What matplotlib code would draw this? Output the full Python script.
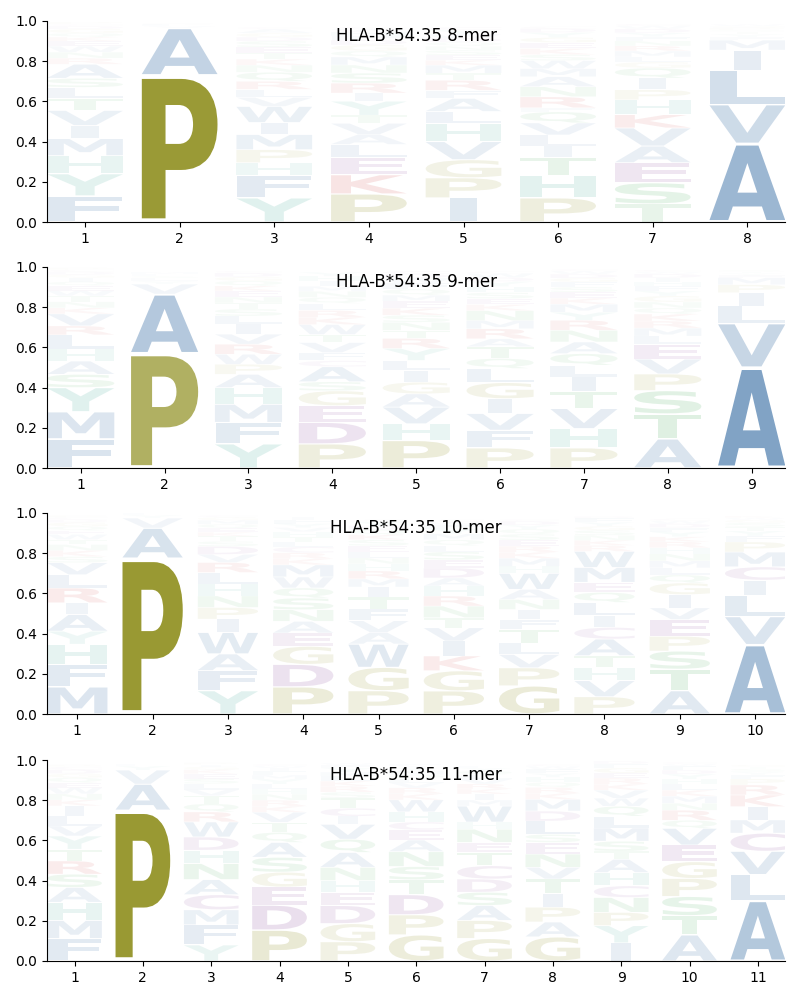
import matplotlib
matplotlib.use("Agg")
import matplotlib.pyplot as plt
from matplotlib.textpath import TextPath
from matplotlib.font_manager import FontProperties
from matplotlib.patches import PathPatch
from matplotlib.path import Path

# ---------------- data (letters bottom-to-top, frequencies) ----------------
letters_8mer = ["FYHMIVTLSARNWEKQGDCP", "PAVLS", "YFHPMIWVLRQNKTESDGAC",
                "PKELAVTYIRSNMQGDFHWC", "IPGVHLAFRTMKESNQDWYC",
                "PHTILVQFRNAMWSKEGYDC", "TSEAVKHPIQGLMRNFYDWC", "AVLIMFYTSPGW"]
freqs_8mer = [
    [.13, .11, .09, .085, .065, .075, .06, .055, .045, .07, .03, .03, .03, .025, .02, .02, .02, .015, .01, .01],
    [.73, .235, .01, .008, .007],
    [.12, .11, .065, .065, .075, .06, .08, .045, .04, .04, .045, .035, .03, .03, .03, .03, .02, .02, .02, .01],
    [.14, .095, .085, .066, .05, .055, .04, .07, .04, .05, .05, .04, .04, .03, .03, .025, .02, .02, .015, .01],
    [.12, .10, .09, .09, .09, .06, .065, .04, .05, .035, .04, .025, .025, .025, .02, .02, .02, .02, .02, .015],
    [.12, .11, .09, .058, .055, .06, .055, .02, .055, .05, .05, .04, .04, .03, .03, .03, .025, .025, .02, .01],
    [.09, .105, .1, .083, .09, .066, .074, .05, .058, .05, .03, .025, .03, .025, .025, .02, .02, .02, .015, .01],
    [.39, .195, .17, .10, .05, .015, .015, .012, .01, .01, .008, .008],
]

letters_9mer = ["FMYSAHLRVKNTWEQIGDCP", "PAVYLSFM", "YFMHAPWRVILSTNEKQGDC",
                "PDEGSACFVTWKRLQNMIHY", "PHVAGILYRTNSKEMQFWDC",
                "PFVIGLQTARMNKESHYDWC", "PHVTILQANRYMKESFGDWC",
                "ATSPVELMRKQNGYFHIDWC", "AVLIPMFYTS"]
freqs_9mer = [
    [.145, .135, .12, .066, .066, .06, .07, .045, .06, .03, .03, .03, .025, .025, .02, .02, .015, .015, .01, .01],
    [.57, .295, .05, .015, .015, .01, .01, .01],
    [.12, .107, .09, .083, .066, .05, .05, .05, .05, .05, .04, .035, .03, .03, .03, .025, .025, .02, .02, .01],
    [.12, .107, .083, .074, .045, .075, .03, .04, .05, .04, .05, .035, .035, .035, .03, .03, .025, .025, .025, .02],
    [.137, .083, .083, .066, .058, .058, .05, .06, .05, .04, .04, .035, .035, .035, .03, .03, .03, .025, .02, .015],
    [.10, .088, .083, .074, .08, .07, .05, .058, .04, .05, .04, .05, .03, .03, .03, .03, .025, .02, .02, .01],
    [.10, .096, .1, .083, .074, .058, .058, .058, .058, .05, .04, .04, .03, .03, .025, .025, .02, .02, .015, .01],
    [.145, .124, .116, .083, .074, .074, .04, .04, .035, .035, .03, .03, .03, .025, .025, .02, .02, .02, .01, .01],
    [.50, .22, .086, .066, .04, .035, .012, .01, .008, .008],
]

letters_10mer = ["MFHYAIRLVSKNTWEQGDCP", "PAVYL", "YFAWIPNHLRVDSTKEQMGC",
                 "PDGEANSQWMKRCLTHVYFI", "PGWAVFTIMRHNLESKQDYC",
                 "PGKIVTNRHADESLQMYFWC", "GPVLTFINAWHMKRESQYDC",
                 "PVHTACILQEMWRKNSGYFD", "ATSPEVIGQLMNHRKYFDWC", "AVLICMPFYTSGWK"]
freqs_10mer = [
    [.135, .112, .1, .065, .083, .058, .074, .066, .06, .03, .03, .03, .025, .025, .02, .02, .02, .015, .01, .01],
    [.775, .15, .05, .015, .01],
    [.116, .1, .083, .107, .066, .058, .058, .058, .058, .05, .04, .04, .025, .025, .02, .02, .02, .02, .015, .01],
    [.135, .112, .09, .066, .058, .058, .058, .05, .055, .06, .03, .03, .03, .025, .025, .025, .02, .02, .02, .015],
    [.116, .116, .116, .058, .058, .058, .06, .05, .04, .04, .035, .03, .03, .03, .03, .025, .025, .02, .02, .01],
    [.115, .1, .074, .074, .066, .05, .058, .05, .05, .04, .05, .04, .04, .03, .03, .03, .025, .02, .015, .01],
    [.14, .09, .066, .058, .066, .05, .05, .05, .05, .08, .035, .04, .03, .03, .03, .03, .025, .02, .02, .01],
    [.086, .08, .066, .058, .083, .058, .058, .066, .05, .05, .074, .08, .03, .025, .025, .025, .02, .02, .02, .01],
    [.116, .107, .09, .074, .083, .058, .066, .058, .04, .035, .035, .035, .03, .03, .025, .025, .02, .02, .015, .01],
    [.345, .14, .107, .074, .066, .074, .05, .03, .025, .02, .02, .015, .01, .01],
]

letters_11mer = ["FMHASRTYVLIKNWEQGDCP", "PAVYL", "YFMCANHDWRQTVLSEKGIP",
                 "PDEGSAQTVKRNHLYMFIWC", "PGDEHNAQVICTSRKLMYFW",
                 "GPDTSNAECHWKRVLQMYIF", "GPASDCTENHWMIKRVLQYF",
                 "GAPITVNESLDMKRQHYFWC", "IYPNCHATSMLQWVKREGFD",
                 "ATSPGEVQRNMKLHYDFWC", "ALVCMIKRPFYSTG"]
freqs_11mer = [
    [.112, .09, .09, .074, .066, .066, .058, .066, .05, .05, .05, .03, .03, .03, .025, .025, .02, .02, .015, .01],
    [.75, .13, .07, .02, .01],
    [.08, .1, .075, .075, .075, .08, .066, .066, .075, .05, .04, .04, .03, .03, .025, .025, .02, .015, .01, .01],
    [.154, .124, .09, .074, .074, .074, .05, .05, .05, .03, .03, .03, .025, .025, .025, .02, .02, .015, .01, .01],
    [.096, .09, .09, .066, .058, .066, .074, .066, .074, .04, .04, .05, .03, .03, .025, .025, .02, .02, .015, .01],
    [.13, .1, .1, .074, .066, .074, .058, .05, .04, .05, .06, .03, .03, .025, .02, .02, .02, .015, .01, .01],
    [.112, .09, .074, .066, .066, .066, .066, .05, .066, .035, .08, .03, .03, .025, .025, .025, .02, .02, .015, .01],
    [.12, .074, .074, .066, .074, .058, .066, .058, .04, .066, .05, .058, .03, .03, .025, .025, .02, .02, .015, .01],
    [.09, .086, .066, .074, .058, .066, .066, .04, .05, .066, .058, .05, .04, .04, .03, .03, .025, .025, .02, .015],
    [.13, .096, .095, .09, .083, .083, .083, .04, .05, .035, .035, .03, .03, .025, .025, .02, .02, .01, .01],
    [.30, .13, .116, .09, .066, .066, .058, .05, .03, .02, .015, .015, .01, .01],
]

panel_titles = ["HLA-B*54:35 8-mer", "HLA-B*54:35 9-mer",
                "HLA-B*54:35 10-mer", "HLA-B*54:35 11-mer"]

# ---------------- style ----------------
group_colors = {}
for aa in "AVLIMFW":
    group_colors[aa] = "#4477AA"
for aa in "PG":
    group_colors[aa] = "#999933"
for aa in "HY":
    group_colors[aa] = "#44AA99"
for aa in "STNQ":
    group_colors[aa] = "#44AA55"
for aa in "KR":
    group_colors[aa] = "#CC3333"
for aa in "DEC":
    group_colors[aa] = "#884499"

COL_WIDTH = 0.8
VPAD = 0.05
fp = FontProperties(family="DejaVu Sans", weight="bold")
_cache = {}


def glyph(ch):
    if ch not in _cache:
        _cache[ch] = TextPath((0, 0), ch, size=1, prop=fp)
    return _cache[ch]


msc_ext = glyph("E").get_extents()


def draw_letter(ax, ch, xc, y0, h):
    tp = glyph(ch)
    ext = tp.get_extents()
    hs = min(COL_WIDTH / ext.width, COL_WIDTH / msc_ext.width)
    cw = hs * ext.width
    pad = h * VPAD / 2
    gh = h - 2 * pad
    vs = gh / ext.height
    verts = tp.vertices.copy()
    verts[:, 0] = (verts[:, 0] - ext.x0) * hs + xc - cw / 2
    verts[:, 1] = (verts[:, 1] - ext.y0) * vs + y0 + pad
    alpha = min(1.0, h / 0.74)
    ax.add_patch(PathPatch(Path(verts, tp.codes), facecolor=group_colors[ch],
                           edgecolor="none", lw=0, alpha=alpha, zorder=2))


fig = plt.figure(figsize=(8, 10), dpi=100)
bottoms = [0.778, 0.532, 0.286, 0.039]
panels = [(letters_8mer, freqs_8mer), (letters_9mer, freqs_9mer),
          (letters_10mer, freqs_10mer), (letters_11mer, freqs_11mer)]

for (lets, frqs), b, title in zip(panels, bottoms, panel_titles):
    ax = fig.add_axes([0.059, b, 0.9225, 0.201])
    n = len(lets)
    for i, (col, fr) in enumerate(zip(lets, frqs)):
        pos = i + 1
        y = 0.0
        for ch, f in zip(col, fr):
            draw_letter(ax, ch, pos, y, f)
            y += f
    ax.set_xlim(1 - COL_WIDTH / 2, n + COL_WIDTH / 2)
    ax.set_ylim(0, 1)
    ax.set_xticks(range(1, n + 1))
    ax.set_yticks([0, 0.2, 0.4, 0.6, 0.8, 1.0])
    ax.set_yticklabels(["0.0", "0.2", "0.4", "0.6", "0.8", "1.0"])
    ax.spines["top"].set_visible(False)
    ax.spines["right"].set_visible(False)
    ax.text(0.5, 0.925, title, transform=ax.transAxes, ha="center",
            va="center", fontsize=12, zorder=5)

fig.savefig("out.png", dpi=100)
